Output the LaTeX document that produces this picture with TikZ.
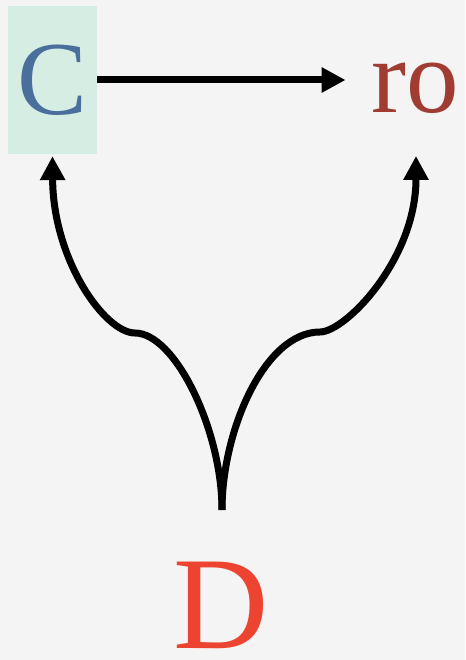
\documentclass[tikz,border=0pt]{standalone}
\usepackage{fontspec}
\setmainfont{Liberation Serif}
\usetikzlibrary{arrows.meta}
\definecolor{bgc}{HTML}{F4F4F4}
\definecolor{boxc}{HTML}{D5EDE3}
\definecolor{cblue}{HTML}{4A6F9C}
\definecolor{rored}{HTML}{A03C31}
\definecolor{dred}{HTML}{EC4430}
\tikzset{
  conn/.style={line width=7pt, -{Triangle[length=24pt,width=24pt]}},
  letter/.style={inner sep=0pt, font=\fontsize{105}{110}\selectfont},
}
\begin{document}
\begin{tikzpicture}[x=1pt,y=1pt]
\fill[bgc] (0,0) rectangle (465,660);
\useasboundingbox (0,0) rectangle (465,660);
\node[fill=boxc, minimum width=89pt, minimum height=148pt, inner sep=0pt,
      font=\fontsize{105}{110}\selectfont, text=cblue] (C) at (52.5,580) {C};
\node[letter, text=rored, anchor=base] (ro) at (415.5,547) {ro};
\node[inner sep=0pt, font=\fontsize{132}{140}\selectfont, text=dred, anchor=base] (D) at (221,11) {D};
\coordinate (fork) at (222,150);
\coordinate (rtip) at (416,504);
\draw[conn] (C.east) -- ([xshift=-26pt]C.east -| ro.west);
\draw[conn] (fork) .. controls (222,230) and (175,327) .. (135,327)
  .. controls (105,327) and (53,400) .. ([yshift=-2pt]C.south);
\draw[conn] (fork) .. controls (222,230) and (265,328) .. (320,328)
  .. controls (345,328) and (416,400) .. (rtip);
\end{tikzpicture}
\end{document}
